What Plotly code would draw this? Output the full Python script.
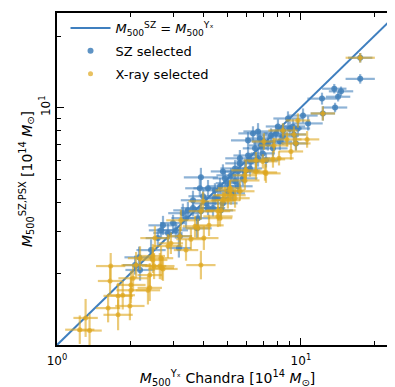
import numpy as np
import plotly.graph_objects as go

# SZ selected clusters: Chandra Y_X mass and SZ (PSX) mass [1e14 Msun]
sz_x = [17.5, 13.7, 14.6, 12.2, 14.2, 13.8, 10.2, 9.0, 6.67, 7.54, 6.07, 6.48, 6.07, 7.19, 6.24,
        5.52, 5.17, 5.02, 4.57, 3.89, 3.85, 3.61, 3.44, 5.37, 5.02, 4.44, 5.89, 2.72, 2.67, 3.75,
        3.16, 2.43, 2.09, 2.19, 4.79, 5.62, 6.86, 5.37, 4.44, 8.05, 8.44, 9.27, 7.68, 6.98, 5.62,
        4.88, 4.16, 4.08, 3.28, 2.99, 7.32, 6.67, 5.78, 4.66, 3.97, 3.61, 3.38, 3.07, 4.16, 3.78,
        4.79, 5.26, 6.36, 8.20, 8.85, 9.72, 10.7, 7.90, 6.79, 6.18, 5.52, 4.36, 2.85, 2.59, 2.17,
        17.5, 12.3, 8.44, 9.36, 7.05, 9.54, 6.54, 5.95, 4.70, 3.89, 3.19]
sz_y = [13.2, 12.0, 11.7, 10.9, 11.1, 10.0, 9.25, 8.16, 7.93, 7.63, 7.27, 6.73, 6.28, 5.99, 5.93,
        5.38, 5.18, 4.80, 4.15, 5.08, 4.57, 4.07, 3.69, 4.89, 4.44, 4.15, 5.38, 3.19, 3.04, 3.10,
        2.56, 2.51, 2.17, 2.07, 5.38, 6.11, 6.92, 5.54, 4.48, 8.32, 7.55, 8.32, 6.73, 6.41, 5.82,
        5.03, 4.57, 3.95, 3.59, 3.26, 7.06, 6.11, 5.03, 4.66, 4.23, 3.77, 3.42, 3.04, 3.77, 3.42,
        3.95, 4.35, 7.78, 7.19, 8.99, 8.16, 8.57, 7.78, 7.41, 5.54, 4.66, 3.77, 2.96, 2.82, 2.34,
        16.2, 9.44, 8.00, 7.70, 7.19, 7.06, 5.99, 5.44, 3.69, 3.66, 2.87]
sz_xerr_dex = [0.06, 0.05, 0.05, 0.06, 0.05, 0.05, 0.06, 0.05, 0.06, 0.06, 0.07, 0.05, 0.06, 0.05, 0.06,
               0.05, 0.06, 0.05, 0.06, 0.07, 0.06, 0.05, 0.06, 0.05, 0.06, 0.05, 0.06, 0.06, 0.05, 0.06,
               0.05, 0.06, 0.05, 0.06, 0.05, 0.06, 0.05, 0.06, 0.05, 0.05, 0.06, 0.05, 0.06, 0.05, 0.06,
               0.05, 0.06, 0.05, 0.06, 0.05, 0.06, 0.05, 0.06, 0.05, 0.06, 0.05, 0.06, 0.05, 0.06, 0.05,
               0.06, 0.05, 0.06, 0.05, 0.06, 0.05, 0.06, 0.05, 0.06, 0.05, 0.06, 0.05, 0.06, 0.05, 0.06,
               0.05, 0.05, 0.05, 0.05, 0.05, 0.05, 0.05, 0.05, 0.05, 0.05, 0.05]
sz_yerr_dex = [0.02, 0.02, 0.02, 0.025, 0.02, 0.02, 0.03, 0.03, 0.035, 0.03, 0.035, 0.03, 0.035, 0.03, 0.035,
               0.035, 0.03, 0.035, 0.03, 0.04, 0.035, 0.04, 0.035, 0.03, 0.035, 0.03, 0.035, 0.04, 0.035, 0.04,
               0.04, 0.045, 0.04, 0.045, 0.03, 0.035, 0.03, 0.035, 0.03, 0.03, 0.035, 0.03, 0.035, 0.03, 0.035,
               0.03, 0.035, 0.03, 0.04, 0.035, 0.03, 0.035, 0.03, 0.035, 0.03, 0.035, 0.04, 0.035, 0.03, 0.035,
               0.03, 0.035, 0.03, 0.035, 0.03, 0.035, 0.03, 0.035, 0.03, 0.035, 0.03, 0.035, 0.04, 0.04, 0.045,
               0.02, 0.03, 0.03, 0.03, 0.03, 0.03, 0.03, 0.035, 0.035, 0.035, 0.04]

# X-ray selected clusters
xr_x = [17.5, 12.3, 9.72, 8.44, 9.36, 8.76, 10.6, 9.54, 7.05, 7.75, 9.10, 8.13, 7.68, 6.98, 6.54,
        5.95, 6.54, 7.19, 5.89, 5.89, 5.12, 5.62, 4.88, 5.17, 4.79, 3.97, 3.89, 4.70, 4.66, 3.22,
        3.78, 4.20, 3.19, 3.54, 7.12, 5.12, 5.02, 5.37, 3.68, 2.52, 2.93, 2.85, 3.38, 4.00, 2.19,
        2.47, 2.67, 2.64, 2.40, 2.01, 2.40, 3.89, 2.69, 1.66, 1.65, 2.05, 1.86, 1.78, 1.62, 1.78,
        1.31, 1.24, 1.36, 2.01, 2.36, 2.11, 2.47, 1.99, 2.50, 2.72, 4.57, 4.57]
xr_y = [16.2, 9.44, 8.82, 8.00, 7.70, 7.34, 7.34, 7.06, 7.19, 6.92, 6.53, 6.11, 6.05, 5.93, 5.99,
        5.44, 5.38, 5.28, 5.18, 4.93, 4.57, 4.44, 4.27, 4.27, 4.07, 4.03, 3.66, 3.69, 3.42, 3.35,
        3.10, 3.19, 2.87, 2.79, 5.33, 4.48, 4.07, 4.15, 3.16, 2.82, 2.68, 2.61, 2.51, 2.82, 2.32,
        2.28, 2.32, 2.15, 1.97, 1.79, 1.74, 2.17, 2.11, 2.15, 1.86, 1.91, 1.62, 1.61, 1.43, 1.34,
        1.30, 1.16, 1.15, 1.70, 1.70, 2.17, 2.37, 1.46, 2.15, 2.09, 3.66, 3.48]
xr_xerr_dex = [0.06, 0.05, 0.05, 0.06, 0.05, 0.06, 0.05, 0.06, 0.05, 0.06, 0.05, 0.06, 0.05, 0.06, 0.05,
               0.06, 0.05, 0.06, 0.05, 0.06, 0.05, 0.06, 0.05, 0.06, 0.05, 0.06, 0.05, 0.06, 0.05, 0.06,
               0.05, 0.06, 0.05, 0.06, 0.05, 0.06, 0.05, 0.06, 0.05, 0.06, 0.05, 0.06, 0.05, 0.06, 0.05,
               0.06, 0.05, 0.06, 0.05, 0.06, 0.05, 0.06, 0.05, 0.06, 0.05, 0.06, 0.05, 0.06, 0.05, 0.06,
               0.05, 0.06, 0.05, 0.06, 0.05, 0.06, 0.05, 0.06, 0.05, 0.06, 0.05, 0.06]
xr_yerr_dex = [0.02, 0.03, 0.03, 0.03, 0.035, 0.03, 0.035, 0.03, 0.035, 0.03, 0.035, 0.03, 0.035, 0.03, 0.035,
               0.04, 0.035, 0.04, 0.035, 0.04, 0.035, 0.04, 0.035, 0.04, 0.035, 0.04, 0.035, 0.04, 0.035, 0.045,
               0.04, 0.045, 0.04, 0.045, 0.035, 0.04, 0.035, 0.04, 0.045, 0.05, 0.045, 0.05, 0.045, 0.05, 0.05,
               0.055, 0.05, 0.055, 0.05, 0.06, 0.055, 0.06, 0.05, 0.055, 0.06, 0.055, 0.06, 0.055, 0.06, 0.065,
               0.08, 0.06, 0.07, 0.055, 0.06, 0.055, 0.05, 0.06, 0.055, 0.05, 0.04, 0.045]

line_x = [1.0, 25.0]
major_x = [1, 10]
major_x_text = ["10<sup>0</sup>", "10<sup>1</sup>"]
major_y = [10]
major_y_text = ["10<sup>1</sup>"]
minor_vals = [2, 3, 4, 5, 6, 7, 8, 9, 20]

BLUE = "rgba(66,128,186,{a})"
GOLD = "rgba(222,166,30,{a})"


def err_dict(vals, dex, color):
    v = np.asarray(vals, float)
    d = np.asarray(dex, float)
    return dict(type="data", symmetric=False,
                array=v * (10 ** d - 1), arrayminus=v * (1 - 10 ** (-d)),
                color=color, thickness=2.2, width=0)


fig = go.Figure()
fig.add_trace(go.Scatter(
    x=line_x, y=line_x, mode="lines", legendgroup="a",
    line=dict(color="#3f7fbf", width=2),
    name="<i>M</i><sub>500</sub><sup>SZ</sup> = <i>M</i><sub>500</sub><sup>Yₓ</sup>"))
fig.add_trace(go.Scatter(
    x=sz_x, y=sz_y, mode="markers", name="SZ selected", legendgroup="b",
    marker=dict(size=6, color=BLUE.format(a=0.85), line=dict(width=0)),
    error_x=err_dict(sz_x, sz_xerr_dex, BLUE.format(a=0.6)),
    error_y=err_dict(sz_y, sz_yerr_dex, BLUE.format(a=0.6))))
fig.add_trace(go.Scatter(
    x=xr_x, y=xr_y, mode="markers", name="X-ray selected", legendgroup="c",
    marker=dict(size=5, color=GOLD.format(a=0.7), line=dict(width=0)),
    error_x=err_dict(xr_x, xr_xerr_dex, GOLD.format(a=0.6)),
    error_y=err_dict(xr_y, xr_yerr_dex, GOLD.format(a=0.6))))
# invisible trace anchoring the mirrored (top/right) tick axes
fig.add_trace(go.Scatter(x=line_x, y=line_x, xaxis="x2", yaxis="y2", mode="lines",
                         line=dict(width=0), showlegend=False, hoverinfo="skip"))

rng = [0, np.log10(25)]
axis_common = dict(
    type="log", range=rng, showgrid=False, zeroline=False,
    showline=True, linecolor="black", linewidth=1.5,
    ticks="inside", ticklen=7, tickwidth=1.2, tickcolor="black",
    minor=dict(ticks="inside", ticklen=4, tickwidth=1, tickcolor="black", tickvals=minor_vals, showgrid=False),
)
fig.update_layout(
    xaxis=dict(**axis_common, tickvals=major_x, ticktext=major_x_text, ticklabelstandoff=4,
               title=dict(text="<i>M</i><sub>500</sub><sup>Yₓ</sup> Chandra [10<sup>14</sup> <i>M</i><sub>⊙</sub>]",
                          standoff=4)),
    yaxis=dict(**axis_common, tickvals=major_y, ticktext=major_y_text, tickangle=-90,
               title=dict(text="<i>M</i><sub>500</sub><sup>SZ,PSX</sup> [10<sup>14</sup> <i>M</i><sub>⊙</sub>]",
                          standoff=2)),
    xaxis2=dict(**axis_common, overlaying="x", side="top", anchor="y2", tickvals=major_x, showticklabels=False),
    yaxis2=dict(**axis_common, overlaying="y", side="right", anchor="x2", tickvals=major_y, showticklabels=False),
)
fig.update_layout(
    width=395, height=387,
    margin=dict(l=49, r=5, t=5, b=50),
    paper_bgcolor="white", plot_bgcolor="white",
    font=dict(family="DejaVu Sans", size=12, color="black"),
    legend=dict(x=0.025, y=1.0, xanchor="left", yanchor="top", bgcolor="rgba(255,255,255,0)",
                font=dict(size=13), itemwidth=40, tracegroupgap=3),
)
fig.write_html("out.html")
